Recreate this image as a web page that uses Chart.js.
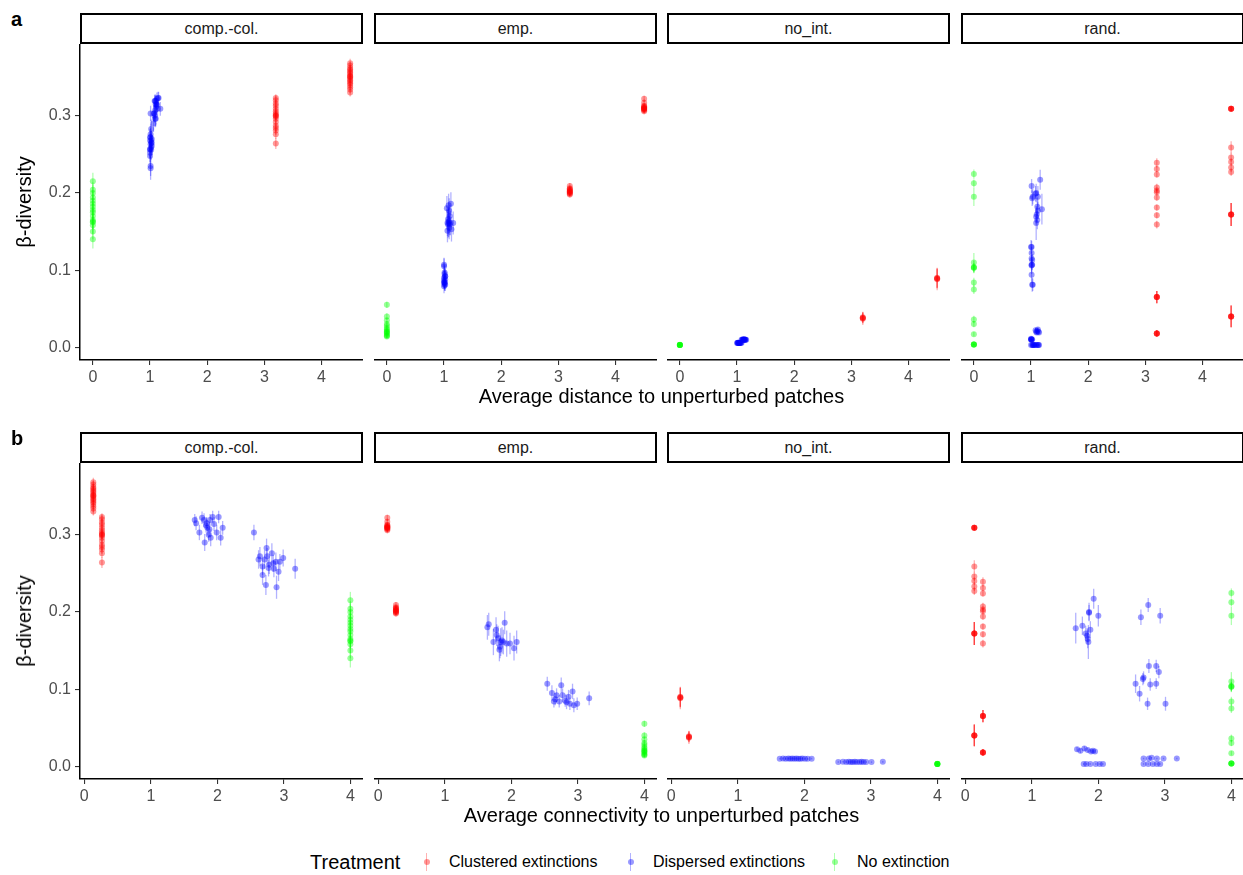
<!DOCTYPE html>
<html>
<head>
<meta charset="utf-8">
<script src="https://cdn.jsdelivr.net/npm/chart.js@4.4.1/dist/chart.umd.min.js"></script>
<style>
  body { margin: 0; background: #fff; }
  #fig { position: relative; width: 1243px; height: 875px; overflow: hidden; font-family: "Liberation Sans", Arial, sans-serif; }
  #fig canvas { position: absolute; }
  .strip { position: absolute; box-sizing: border-box; border: 2px solid #000; background: #fff; font-size: 16px; color: #1a1a1a; display: flex; align-items: center; justify-content: center; }
  .txt { position: absolute; white-space: nowrap; line-height: 1; }
  .key { position: absolute; width: 18px; height: 18px; }
  .key .bar { position: absolute; left: 8px; top: 0; width: 1.3px; height: 18px; }
  .key .dot { position: absolute; left: 5.5px; top: 6px; width: 6px; height: 6px; border-radius: 50%; }
</style>
</head>
<body>
<div id="fig"></div>
<script>
// facets and treatments
const facetNames = ["comp.-col.", "emp.", "no_int.", "rand."];
const treatmentNames = ["Clustered extinctions", "Dispersed extinctions", "No extinction"];
const treatmentRgb = ["255,0,0", "0,0,255", "0,255,0"];
const distTicks = [0, 1, 2, 3, 4];
const connTicks = [0, 1, 2, 3, 4];
const betaTicks = [0, 0.1, 0.2, 0.3];

// ---- comp.-col. ----
const compColClusteredBeta = [0.330,0.334,0.337,0.340,0.342,0.344,0.346,0.348,0.350,0.352,0.354,0.356,0.358,0.360,0.362,0.365,0.368,0.351,
  0.264,0.276,0.281,0.284,0.287,0.292,0.296,0.299,0.301,0.303,0.306,0.309,0.313,0.316,0.320,0.323,0.300];
const compColClusteredSe = [0.005,0.005,0.004,0.005,0.004,0.005,0.004,0.005,0.004,0.005,0.004,0.005,0.004,0.005,0.004,0.005,0.006,0.004,
  0.007,0.006,0.006,0.005,0.006,0.005,0.006,0.005,0.006,0.005,0.006,0.005,0.006,0.005,0.006,0.005,0.005];
const compColClusteredDist = [4.5,4.5,4.5,4.5,4.5,4.5,4.5,4.5,4.5,4.5,4.5,4.5,4.5,4.5,4.5,4.5,4.5,4.5,
  3.2,3.2,3.2,3.2,3.2,3.2,3.2,3.2,3.2,3.2,3.2,3.2,3.2,3.2,3.2,3.2,3.2];
const compColClusteredConn = [0.135,0.135,0.135,0.135,0.135,0.135,0.135,0.135,0.135,0.135,0.135,0.135,0.135,0.135,0.135,0.135,0.135,0.135,
  0.265,0.265,0.265,0.265,0.265,0.265,0.265,0.265,0.265,0.265,0.265,0.265,0.265,0.265,0.265,0.265,0.265];

const compColDispersedBeta = [0.303,0.268,0.259,0.248,0.235,0.283,0.272,0.261,0.276,0.256,0.265,0.232,0.252,0.270,0.256,0.272,0.257,0.268,0.263,0.265,
  0.319,0.315,0.303,0.322,0.319,0.290,0.315,0.309,0.300,0.319,0.296,0.323,0.314,0.303,0.323,0.296,0.309,0.312,0.307];
const compColDispersedSe = [0.010,0.012,0.011,0.013,0.013,0.012,0.011,0.012,0.013,0.011,0.012,0.015,0.012,0.011,0.013,0.012,0.011,0.012,0.011,0.010,
  0.008,0.009,0.010,0.008,0.009,0.011,0.008,0.010,0.009,0.008,0.011,0.008,0.009,0.010,0.008,0.010,0.009,0.009,0.010];
const compColDispersedDist = [1.01,1.00,1.02,1.00,1.01,1.02,1.00,1.03,1.01,1.00,1.02,1.01,1.00,1.03,1.02,1.01,1.00,1.02,1.01,1.03,
  1.08,1.10,1.07,1.12,1.09,1.06,1.11,1.13,1.08,1.10,1.09,1.14,1.12,1.07,1.15,1.10,1.18,1.11,1.09];
const compColDispersedConn = [2.55,2.62,2.68,2.68,2.73,2.74,2.75,2.78,2.82,2.85,2.88,2.89,2.92,2.99,3.17,2.64,2.77,2.71,2.84,2.94,
  1.66,1.68,1.73,1.77,1.80,1.81,1.84,1.85,1.87,1.89,1.90,1.93,1.95,1.99,2.02,2.05,2.08,1.83,1.88];

const compColNoneBeta = [0.140,0.150,0.158,0.162,0.165,0.170,0.175,0.178,0.182,0.186,0.190,0.194,0.200,0.204,0.215,0.163];
const compColNoneSe = [0.012,0.010,0.011,0.010,0.012,0.010,0.011,0.010,0.011,0.010,0.012,0.010,0.011,0.010,0.011,0.010];
const compColNoneDist = [0,0,0,0,0,0,0,0,0,0,0,0,0,0,0,0];
const compColNoneConn = [4,4,4,4,4,4,4,4,4,4,4,4,4,4,4,4];

// ---- emp. ----
const empClusteredBeta = [0.322,0.317,0.313,0.312,0.311,0.310,0.309,0.308,0.307,0.306,0.310,0.309,
  0.209,0.206,0.204,0.203,0.202,0.201,0.200,0.199,0.198,0.205,0.202];
const empClusteredSe = [0.004,0.004,0.003,0.004,0.003,0.004,0.003,0.004,0.003,0.004,0.003,0.004,
  0.004,0.003,0.004,0.003,0.004,0.003,0.004,0.003,0.004,0.003,0.004];
const empClusteredDist = [4.5,4.5,4.5,4.5,4.5,4.5,4.5,4.5,4.5,4.5,4.5,4.5,
  3.2,3.2,3.2,3.2,3.2,3.2,3.2,3.2,3.2,3.2,3.2];
const empClusteredConn = [0.135,0.135,0.135,0.135,0.135,0.135,0.135,0.135,0.135,0.135,0.135,0.135,
  0.265,0.265,0.265,0.265,0.265,0.265,0.265,0.265,0.265,0.265,0.265];

const empDispersedBeta = [0.107,0.095,0.087,0.092,0.084,0.105,0.092,0.085,0.090,0.081,0.097,0.079,0.081,0.088,0.084,0.083,
  0.180,0.184,0.161,0.170,0.166,0.155,0.161,0.161,0.186,0.159,0.159,0.153,0.161,0.177,0.163,0.151];
const empDispersedSe = [0.009,0.010,0.008,0.009,0.008,0.010,0.009,0.008,0.009,0.008,0.010,0.009,0.008,0.009,0.008,0.009,
  0.016,0.015,0.017,0.014,0.016,0.015,0.018,0.016,0.015,0.017,0.014,0.016,0.015,0.016,0.017,0.015];
const empDispersedDist = [1.00,1.01,1.00,1.02,1.01,1.00,1.02,1.01,1.00,1.02,1.01,1.00,1.01,1.02,1.00,1.01,
  1.05,1.08,1.06,1.10,1.07,1.09,1.08,1.11,1.12,1.07,1.10,1.13,1.16,1.09,1.08,1.06];
const empDispersedConn = [2.54,2.61,2.66,2.68,2.72,2.75,2.77,2.81,2.86,2.88,2.92,2.94,2.99,3.17,2.64,2.83,
  1.64,1.66,1.73,1.78,1.80,1.83,1.84,1.88,1.90,1.93,1.98,2.04,2.08,1.77,1.86,1.82];

const empNoneBeta = [0.055,0.040,0.035,0.030,0.028,0.025,0.023,0.021,0.019,0.018,0.016,0.015,0.014,0.020];
const empNoneSe = [0.004,0.004,0.003,0.004,0.003,0.003,0.003,0.003,0.003,0.003,0.003,0.003,0.003,0.003];
const empNoneDist = [0,0,0,0,0,0,0,0,0,0,0,0,0,0];
const empNoneConn = [4,4,4,4,4,4,4,4,4,4,4,4,4,4];

// ---- no_int. ----
const noIntClusteredBeta = [0.089,0.088,0.090,0.089, 0.038,0.039,0.037,0.038];
const noIntClusteredSe = [0.013,0.014,0.013,0.012, 0.007,0.007,0.008,0.007];
const noIntClusteredDist = [4.5,4.5,4.5,4.5, 3.2,3.2,3.2,3.2];
const noIntClusteredConn = [0.135,0.135,0.135,0.135, 0.265,0.265,0.265,0.265];

const noIntDispersedBeta = [0.0055,0.0058,0.0054,0.0057,0.0056,0.0055,0.0057,0.0054,0.0056,0.0058,0.0055,0.0056,0.0054,0.0057,
  0.0098,0.0102,0.0097,0.0100,0.0099,0.0101,0.0098,0.0100,0.0097,0.0099,0.0101,0.0098,0.0096,0.0099];
const noIntDispersedSe = [0.001,0.001,0.001,0.001,0.001,0.001,0.001,0.001,0.001,0.001,0.001,0.001,0.001,0.001,
  0.001,0.001,0.001,0.001,0.001,0.001,0.001,0.001,0.001,0.001,0.001,0.001,0.001,0.001];
const noIntDispersedDist = [1.00,1.01,1.02,1.03,1.01,1.04,1.02,1.05,1.03,1.06,1.04,1.07,1.05,1.08,
  1.08,1.09,1.10,1.11,1.10,1.12,1.11,1.13,1.12,1.14,1.13,1.15,1.14,1.16];
const noIntDispersedConn = [2.51,2.58,2.63,2.67,2.70,2.73,2.76,2.79,2.83,2.86,2.89,2.93,3.01,3.18,
  1.63,1.68,1.72,1.76,1.79,1.82,1.85,1.88,1.91,1.94,1.97,2.01,2.05,2.11];

const noIntNoneBeta = [0.0030,0.0032,0.0028,0.0030,0.0031,0.0029];
const noIntNoneSe = [0.0008,0.0008,0.0008,0.0008,0.0008,0.0008];
const noIntNoneDist = [0,0,0,0,0,0];
const noIntNoneConn = [4,4,4,4,4,4];

// ---- rand. ----
const randClusteredBeta = [0.309,0.309,0.309,0.309, 0.259,0.246,0.240,0.233,0.227, 0.172,0.172,0.172,0.172, 0.040,0.040,0.040,0.040,
  0.239,0.231,0.224,0.207,0.203,0.201,0.194,0.181,0.171,0.159, 0.065,0.065,0.065,0.065, 0.018,0.018,0.018,0.018];
const randClusteredSe = [0.003,0.003,0.003,0.003, 0.008,0.006,0.005,0.006,0.005, 0.015,0.015,0.015,0.015, 0.014,0.014,0.014,0.014,
  0.006,0.004,0.004,0.005,0.004,0.004,0.004,0.004,0.004,0.005, 0.008,0.008,0.008,0.008, 0.004,0.004,0.004,0.004];
const randClusteredDist = [4.5,4.5,4.5,4.5, 4.5,4.5,4.5,4.5,4.5, 4.5,4.5,4.5,4.5, 4.5,4.5,4.5,4.5,
  3.2,3.2,3.2,3.2,3.2,3.2,3.2,3.2,3.2,3.2, 3.2,3.2,3.2,3.2, 3.2,3.2,3.2,3.2];
const randClusteredConn = [0.135,0.135,0.135,0.135, 0.135,0.135,0.135,0.135,0.135, 0.135,0.135,0.135,0.135, 0.135,0.135,0.135,0.135,
  0.265,0.265,0.265,0.265,0.265,0.265,0.265,0.265,0.265,0.265, 0.265,0.265,0.265,0.265, 0.265,0.265,0.265,0.265];

const randDispersedBeta = [0.179,0.182,0.169,0.161,0.200,0.177,0.217,0.195,0.172,0.165,0.199,0.193,0.209,0.195,
  0.107,0.094,0.113,0.081,0.130,0.106,0.130,0.107,0.122,0.081,0.115,
  0.022,0.020,0.023,0.021,0.019,0.020,0.019,
  0.003,0.003,0.003,0.003,0.003,0.003,
  0.010,0.010,0.011,0.010,0.010,0.010,
  0.003,0.003,0.003,0.003,0.003];
const randDispersedSe = [0.020,0.012,0.010,0.022,0.012,0.011,0.013,0.014,0.010,0.012,0.010,0.010,0.009,0.010,
  0.012,0.010,0.008,0.008,0.009,0.008,0.008,0.007,0.008,0.009,0.008,
  0.003,0.003,0.003,0.003,0.002,0.002,0.002,
  0.001,0.001,0.001,0.001,0.001,0.001,
  0.001,0.001,0.001,0.001,0.001,0.001,
  0.001,0.001,0.001,0.001,0.001];
const randDispersedDist = [1.19,1.11,1.09,1.09,1.09,1.12,1.16,1.12,1.10,1.11,1.08,1.02,1.01,1.03,
  1.01,1.01,1.02,1.03,1.00,1.01,1.01,1.02,1.01,1.02,1.01,
  1.08,1.09,1.12,1.11,1.10,1.13,1.14,
  1.05,1.08,1.10,1.12,1.14,1.13,
  1.00,1.01,1.00,1.02,1.01,1.00,
  1.00,1.02,1.04,1.06,1.03];
const randDispersedConn = [1.66,1.76,1.83,1.85,1.86,1.88,1.93,2.00,1.81,1.84,1.86,2.64,2.75,2.93,
  2.56,2.62,2.67,2.74,2.76,2.78,2.87,2.87,2.91,3.01,2.68,
  1.68,1.73,1.79,1.84,1.89,1.92,1.95,
  1.78,1.82,1.88,1.96,2.02,2.07,
  2.68,2.76,2.80,2.88,2.98,3.18,
  2.68,2.75,2.82,2.88,2.93];

const randNoneBeta = [0.2245,0.2125,0.195,0.110,0.104,0.103,0.103,0.084,0.075,0.036,0.030,0.017,0.0035,0.0035,0.0035,0.0035];
const randNoneSe = [0.006,0.005,0.012,0.012,0.008,0.006,0.006,0.006,0.006,0.005,0.004,0.003,0.001,0.001,0.001,0.001];
const randNoneDist = [0,0,0,0,0,0,0,0,0,0,0,0,0,0,0,0];
const randNoneConn = [4,4,4,4,4,4,4,4,4,4,4,4,4,4,4,4];

const facetSeries = [
  [
    { beta: compColClusteredBeta, se: compColClusteredSe, dist: compColClusteredDist, conn: compColClusteredConn },
    { beta: compColDispersedBeta, se: compColDispersedSe, dist: compColDispersedDist, conn: compColDispersedConn },
    { beta: compColNoneBeta, se: compColNoneSe, dist: compColNoneDist, conn: compColNoneConn }
  ],
  [
    { beta: empClusteredBeta, se: empClusteredSe, dist: empClusteredDist, conn: empClusteredConn },
    { beta: empDispersedBeta, se: empDispersedSe, dist: empDispersedDist, conn: empDispersedConn },
    { beta: empNoneBeta, se: empNoneSe, dist: empNoneDist, conn: empNoneConn }
  ],
  [
    { beta: noIntClusteredBeta, se: noIntClusteredSe, dist: noIntClusteredDist, conn: noIntClusteredConn },
    { beta: noIntDispersedBeta, se: noIntDispersedSe, dist: noIntDispersedDist, conn: noIntDispersedConn },
    { beta: noIntNoneBeta, se: noIntNoneSe, dist: noIntNoneDist, conn: noIntNoneConn }
  ],
  [
    { beta: randClusteredBeta, se: randClusteredSe, dist: randClusteredDist, conn: randClusteredConn },
    { beta: randDispersedBeta, se: randDispersedSe, dist: randDispersedDist, conn: randDispersedConn },
    { beta: randNoneBeta, se: randNoneSe, dist: randNoneDist, conn: randNoneConn }
  ]
];

const FONT = '"Liberation Sans", Arial, sans-serif';
Chart.defaults.font.family = FONT;

const fig = document.getElementById("fig");
const panelLefts = [80, 374, 667, 961];
const panelW = 283;
const plotH = 316;
const yAxisW = 60;
const xAxisH = 30;

const rows = [
  { key: "dist", tag: "a", top: 44, min: -0.225, max: 4.725, ticks: distTicks, title: "Average distance to unperturbed patches" },
  { key: "conn", tag: "b", top: 463, min: -0.065, max: 4.19, ticks: connTicks, title: "Average connectivity to unperturbed patches" }
];

// vertical error bars drawn under the points
const errorBars = {
  id: "errorBars",
  beforeDatasetsDraw(chart) {
    const { ctx, chartArea } = chart;
    const y = chart.scales.y;
    ctx.save();
    ctx.beginPath();
    ctx.rect(chartArea.left, chartArea.top, chartArea.right - chartArea.left, chartArea.bottom - chartArea.top);
    ctx.clip();
    ctx.lineWidth = 1.3;
    chart.data.datasets.forEach((ds, i) => {
      const meta = chart.getDatasetMeta(i);
      ctx.strokeStyle = ds.barColor;
      meta.data.forEach((pt, j) => {
        const d = ds.data[j];
        ctx.beginPath();
        ctx.moveTo(pt.x, y.getPixelForValue(d.y - d.se));
        ctx.lineTo(pt.x, y.getPixelForValue(d.y + d.se));
        ctx.stroke();
      });
    });
    ctx.restore();
  }
};

// keep the plot area fixed: no extra room for edge labels
function noPadding(s) {
  s.paddingTop = 0;
  s.paddingBottom = 0;
  s.paddingLeft = 0;
  s.paddingRight = 0;
}

function addText(text, x, y, style, anchor) {
  const el = document.createElement("div");
  el.className = "txt";
  el.textContent = text;
  el.style.left = x + "px";
  el.style.top = y + "px";
  Object.assign(el.style, style);
  el.style.transform = anchor || "translate(-50%,-50%)";
  fig.appendChild(el);
  return el;
}

function makePanel(row, f) {
  const showY = f === 0;
  const canvas = document.createElement("canvas");
  const w = panelW + (showY ? yAxisW : 0);
  const h = plotH + xAxisH;
  canvas.width = w;
  canvas.height = h;
  canvas.style.width = w + "px";
  canvas.style.height = h + "px";
  canvas.style.left = (panelLefts[f] - (showY ? yAxisW : 0)) + "px";
  canvas.style.top = row.top + "px";
  fig.appendChild(canvas);

  const datasets = facetSeries[f].map((s, t) => ({
    label: treatmentNames[t],
    data: s.beta.map((b, i) => ({ x: s[row.key][i], y: b, se: s.se[i] })),
    pointRadius: 3,
    pointBorderWidth: 0,
    pointBackgroundColor: `rgba(${treatmentRgb[t]},0.4)`,
    barColor: `rgba(${treatmentRgb[t]},0.3)`,
    showLine: false
  }));

  new Chart(canvas, {
    type: "scatter",
    data: { datasets },
    options: {
      responsive: false,
      animation: false,
      events: [],
      layout: { padding: 0, autoPadding: false },
      plugins: { legend: { display: false }, tooltip: { enabled: false } },
      scales: {
        x: {
          type: "linear",
          min: row.min,
          max: row.max,
          afterBuildTicks: s => { s.ticks = row.ticks.map(v => ({ value: v })); },
          afterFit: s => { s.height = xAxisH; noPadding(s); },
          grid: { drawOnChartArea: false, drawTicks: true, tickLength: 5, color: "#333", lineWidth: 1.1 },
          border: { display: true, color: "#000", width: 1.5 },
          ticks: { color: "#4d4d4d", font: { size: 16 }, padding: 3, maxRotation: 0, autoSkip: false }
        },
        y: {
          type: "linear",
          display: showY,
          min: -0.0165,
          max: 0.393,
          afterBuildTicks: s => { s.ticks = betaTicks.map(v => ({ value: v })); },
          afterFit: s => { s.width = showY ? yAxisW : 0; noPadding(s); },
          grid: { drawOnChartArea: false, drawTicks: true, tickLength: 5, color: "#333", lineWidth: 1.1 },
          border: { display: true, color: "#000", width: 1.5 },
          ticks: { color: "#4d4d4d", font: { size: 16 }, padding: 4, callback: v => v.toFixed(1) }
        }
      }
    },
    plugins: [errorBars]
  });

  const strip = document.createElement("div");
  strip.className = "strip";
  strip.textContent = facetNames[f];
  strip.style.left = panelLefts[f] + "px";
  strip.style.top = (row.top - 31) + "px";
  strip.style.width = panelW + "px";
  strip.style.height = "31px";
  fig.appendChild(strip);
}

rows.forEach(row => {
  for (let f = 0; f < facetNames.length; f++) makePanel(row, f);
  addText(row.tag, 11, row.top - 25, { fontSize: "20px", fontWeight: "bold", color: "#000" }, "translate(0,-50%)");
  addText("β-diversity", 24, row.top + 158, { fontSize: "20px", color: "#000" }, "translate(-50%,-50%) rotate(-90deg)");
  addText(row.title, 661.5, row.top + plotH + 36, { fontSize: "20px", color: "#000" });
});

// legend
addText("Treatment", 310, 862, { fontSize: "20px", color: "#000" }, "translate(0,-50%)");
const keyX = [427, 631, 835];
const labelX = [449, 653, 857];
treatmentNames.forEach((name, t) => {
  const key = document.createElement("div");
  key.className = "key";
  key.style.left = (keyX[t] - 9) + "px";
  key.style.top = (862 - 9) + "px";
  key.innerHTML = `<div class="bar" style="background:rgba(${treatmentRgb[t]},0.3)"></div><div class="dot" style="background:rgba(${treatmentRgb[t]},0.4)"></div>`;
  fig.appendChild(key);
  addText(name, labelX[t], 862, { fontSize: "16px", color: "#000" }, "translate(0,-50%)");
});
</script>
</body>
</html>
